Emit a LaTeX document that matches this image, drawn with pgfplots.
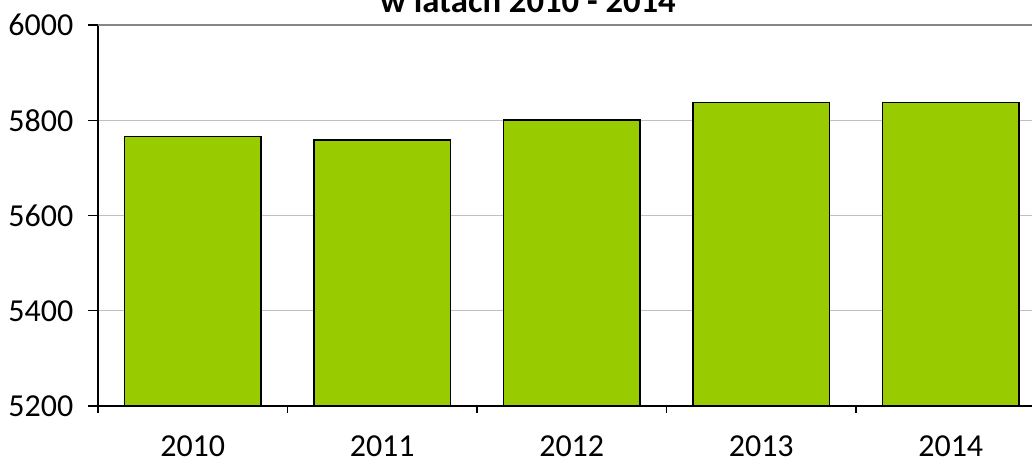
\documentclass[border=0pt]{standalone}
\usepackage{pgfplots}
\pgfplotsset{compat=1.18}
\usepackage{fontspec}
\setmainfont{Carlito}
\definecolor{bargreen}{HTML}{99CC00}
\definecolor{gridgray}{HTML}{C0C0C0}
\definecolor{topgray}{HTML}{868686}
\begin{document}
\begin{tikzpicture}
\begin{axis}[
  scale only axis,
  width=710.6pt, height=285.75pt,
  xmin=-0.5, xmax=4.5, ymin=5200, ymax=6000,
  ytick={5200,5400,5600,5800,6000},
  xtick={0,1,2,3,4},
  xticklabels={2010,2011,2012,2013,2014},
  minor xtick={-0.5,0.5,1.5,2.5,3.5,4.5},
  major x tick style={draw=none},
  tick align=outside,
  major tick length=7.5pt,
  minor tick length=5.25pt,
  tick style={black, line width=1.1pt},
  axis x line*=bottom, axis y line*=left,
  axis line style={black, line width=1.2pt, -},
  ymajorgrids,
  grid style={gridgray, line width=1pt},
  extra y ticks={6000},
  extra y tick labels={},
  extra y tick style={grid style={topgray, line width=1.3pt}, major tick length=0pt},
  /pgf/number format/assume math mode=true,
  /pgf/number format/1000 sep={},
  ticklabel style={font=\fontsize{24}{28}\selectfont},
  yticklabel style={xshift=-7.5pt},
  xticklabel style={yshift=-11pt},
  clip=false,
]
\addplot[ybar, bar width=0.72, fill=bargreen, draw=black, line width=1.2pt]
  coordinates {(0,5766) (1,5758) (2,5800) (3,5837) (4,5837)};
\node[anchor=base, font=\bfseries\fontsize{26}{30}\selectfont] at (rel axis cs:0.4538,1.0323) {w latach 2010 - 2014};
\coordinate (bbsw) at (rel axis cs:-0.1034,-0.1601);
\coordinate (bbne) at (rel axis cs:0.98575,1.0656);
\end{axis}
\pgfresetboundingbox
\path (bbsw) rectangle (bbne);
\end{tikzpicture}
\end{document}
